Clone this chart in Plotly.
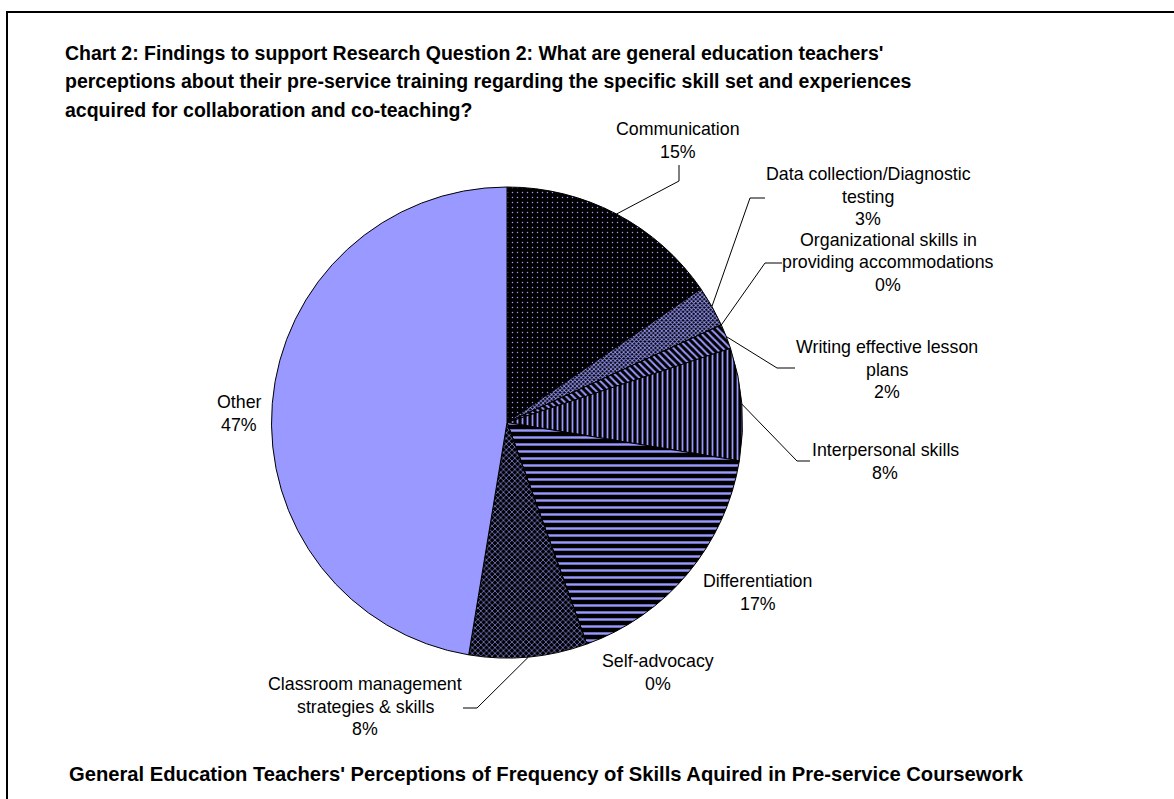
import math
import plotly.graph_objects as go

# ---------------- data ----------------
categories = [
    "Communication",
    "Data collection/Diagnostic testing",
    "Organizational skills in providing accommodations",
    "Writing effective lesson plans",
    "Interpersonal skills",
    "Differentiation",
    "Self-advocacy",
    "Classroom management strategies & skills",
    "Other",
]
values = [15.4, 2.8, 0.0, 1.7, 7.7, 16.9, 0.0, 8.1, 47.4]

# label text lines (category name broken as in the original)
label_lines = [
    ["Communication"],
    ["Data collection/Diagnostic", "testing"],
    ["Organizational skills in", "providing accommodations"],
    ["Writing effective lesson", "plans"],
    ["Interpersonal skills"],
    ["Differentiation"],
    ["Self-advocacy"],
    ["Classroom management", "strategies & skills"],
    ["Other"],
]

title_lines = [
    "Chart 2: Findings to support Research Question 2: What are general education teachers'",
    "perceptions about their pre-service training regarding the specific skill set and experiences",
    "acquired for collaboration and co-teaching?",
]
bottom_title = "General Education Teachers' Perceptions of Frequency of Skills Aquired in Pre-service Coursework"

# ---------------- styling / layout ----------------
W, H = 1174, 799
PURPLE = "#9999FF"
FONT = "Liberation Sans, Arial, sans-serif"

pie_left, pie_right, pie_top, pie_bottom = 270, 744, 187, 658
cx = (pie_left + pie_right) / 2
cy = (pie_top + pie_bottom) / 2
R = min(pie_right - pie_left, pie_bottom - pie_top) / 2

pattern_shapes = [".", "x", "", "\\", "|", "-", "", "x", ""]
pattern_sizes = [5, 3, 6, 5, 5, 7, 6, 4, 6]
pattern_solid = [0.07, 0.5, 0.3, 0.4, 0.35, 0.35, 0.3, 0.3, 0.3]
bg_colors = ["black", "black", "black", "black", "black", "black", "black", "black", PURPLE]

# label positions (text centre x, first line centre y) in pixels
label_pos = [
    (678, 129), (868, 174), (888, 240), (887, 347), (885, 450),
    (758, 581), (658, 661), (365, 684), (239, 402),
]
LINE_H = 22.5
LABEL_SIZE = 17.8
# leader line bend points (px): (bend, end) or None
leaders = [
    ((679, 181), (679, 165)),
    ((750, 198), (765, 198)),
    ((765, 263), (782, 263)),
    ((777, 368), (795, 368)),
    ((797, 461), (810, 461)),
    None,
    None,
    ((477, 708), (463, 708)),
    None,
]


def px(x):
    return x / W


def py(y):
    return 1 - y / H


fig = go.Figure()
fig.add_trace(go.Pie(
    labels=categories,
    values=values,
    sort=False,
    direction="clockwise",
    rotation=0,
    textinfo="none",
    hoverinfo="label+percent",
    showlegend=False,
    domain=dict(x=[px(pie_left), px(pie_right)], y=[py(pie_bottom), py(pie_top)]),
    marker=dict(
        colors=bg_colors,
        line=dict(color="black", width=1),
        pattern=dict(
            shape=pattern_shapes,
            fgcolor=PURPLE,
            bgcolor=bg_colors,
            size=pattern_sizes,
            solidity=pattern_solid,
            fillmode="replace",
        ),
    ),
))

annotations = []
shapes = []

# title lines
for i, t in enumerate(title_lines):
    annotations.append(dict(
        text=f"<b>{t}</b>", x=px(63), y=py(53 + i * 28.5), xref="paper", yref="paper",
        xanchor="left", yanchor="middle", showarrow=False,
        font=dict(family=FONT, size=19.5, color="black"),
    ))
annotations.append(dict(
    text=f"<b>{bottom_title}</b>", x=px(67), y=py(774), xref="paper", yref="paper",
    xanchor="left", yanchor="middle", showarrow=False,
    font=dict(family=FONT, size=20.2, color="black"),
))

# slice labels + leader lines
total = sum(values)
cum = 0.0
for i, v in enumerate(values):
    mid = (cum + v / 2) / total
    cum += v
    lines = label_lines[i] + [f"{round(v / total * 100):.0f}%"]
    lx, ly = label_pos[i]
    for j, ln in enumerate(lines):
        annotations.append(dict(
            text=ln, x=px(lx), y=py(ly + j * LINE_H), xref="paper", yref="paper",
            xanchor="center", yanchor="middle", showarrow=False,
            font=dict(family=FONT, size=LABEL_SIZE, color="black"),
        ))
    if leaders[i] is not None:
        th = 2 * math.pi * mid
        ex = cx + R * math.sin(th)
        ey = cy - R * math.cos(th)
        (bx, by), (tx, ty) = leaders[i]
        path = f"M {px(ex)} {py(ey)} L {px(bx)} {py(by)} L {px(tx)} {py(ty)}"
        shapes.append(dict(type="path", xref="paper", yref="paper", path=path,
                           line=dict(color="black", width=1)))

# page frame (top and left borders)
shapes.append(dict(
    type="path", xref="paper", yref="paper",
    path=f"M {px(7)} {py(H + 5)} L {px(7)} {py(12)} L {px(W + 5)} {py(12)}",
    line=dict(color="black", width=2),
))

fig.update_layout(
    width=W, height=H,
    margin=dict(l=0, r=0, t=0, b=0),
    paper_bgcolor="white",
    plot_bgcolor="white",
    annotations=annotations,
    shapes=shapes,
    font=dict(family=FONT),
)

fig.write_html(
    "out.html",
    config={"displayModeBar": False},
    post_script="document.body.style.margin='0';document.body.style.overflow='hidden';",
)
